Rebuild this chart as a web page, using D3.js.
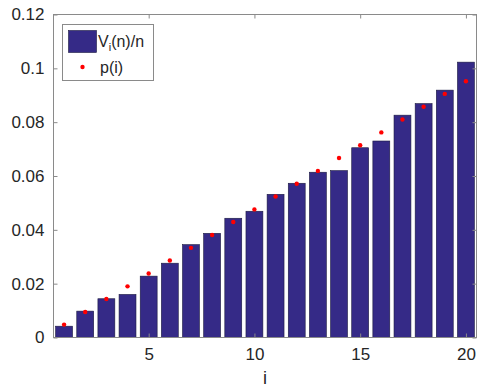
<!DOCTYPE html>
<html><head><meta charset="utf-8">
<script src="https://cdn.jsdelivr.net/npm/d3@7"></script>
<style>body{margin:0;background:#fff}svg{display:block}text{font-family:"Liberation Sans",Arial,sans-serif;fill:#262626}</style>
</head><body><svg id="c" width="478" height="389"></svg>
<script>
const categories = [1,2,3,4,5,6,7,8,9,10,11,12,13,14,15,16,17,18,19,20];
const barValues = [0.0042,0.0098,0.0144,0.0160,0.0228,0.0276,0.0345,0.0387,0.0443,0.0469,0.0532,0.0573,0.0614,0.0620,0.0705,0.0730,0.0826,0.0869,0.0919,0.1023];
const pValues = [0.0048,0.0095,0.0143,0.0190,0.0238,0.0286,0.0333,0.0381,0.0429,0.0476,0.0524,0.0571,0.0619,0.0667,0.0714,0.0762,0.0810,0.0857,0.0905,0.0952];
const xTicks = [5,10,15,20];
const yTicks = [0,0.02,0.04,0.06,0.08,0.1,0.12];
const yTickLabels = ["0","0.02","0.04","0.06","0.08","0.1","0.12"];
const seriesNames = ["V_i(n)/n","p(i)"];

const L=53.5, R=476.5, T=14.5, B=337.5;
const svg = d3.select("#c");
const x = d3.scaleLinear().domain([0.5,20.5]).range([L,R]);
const y = d3.scaleLinear().domain([0,0.12]).range([B,T]);
const bw = (x(1)-x(0))*0.8;

svg.append("g").selectAll("rect").data(categories).join("rect")
  .attr("x", d=>x(d)-bw/2).attr("width", bw)
  .attr("y", (d,i)=>y(barValues[i])).attr("height",(d,i)=>B-y(barValues[i]))
  .attr("fill","#352a87").attr("stroke","#1c1a40").attr("stroke-width",0.6);

svg.append("g").selectAll("circle").data(categories).join("circle")
  .attr("cx", d=>x(d)).attr("cy",(d,i)=>y(pValues[i])).attr("r",2.2).attr("fill","#ff0000");

// axes box
const axc="#8a8a8a";
svg.append("rect").attr("x",L).attr("y",T).attr("width",R-L).attr("height",B-T)
  .attr("fill","none").attr("stroke",axc).attr("stroke-width",1);
const tl=4;
const gb = svg.append("g").attr("transform",`translate(0,${B})`)
  .call(d3.axisBottom(x).tickValues(xTicks).tickSize(-tl).tickPadding(10).tickFormat(d3.format("d")));
const gt = svg.append("g").attr("transform",`translate(0,${T})`)
  .call(d3.axisTop(x).tickValues(xTicks).tickSize(-tl).tickFormat(""));
const gl = svg.append("g").attr("transform",`translate(${L},0)`)
  .call(d3.axisLeft(y).tickValues(yTicks).tickSize(-tl).tickPadding(9).tickFormat((d,i)=>yTickLabels[i]));
const gr = svg.append("g").attr("transform",`translate(${R},0)`)
  .call(d3.axisRight(y).tickValues(yTicks).tickSize(-tl).tickFormat(""));
[gb,gt,gl,gr].forEach(g=>{
  g.select(".domain").remove();
  g.selectAll("line").attr("stroke",axc);
  g.selectAll("text").attr("font-size","17px").attr("fill","#262626").attr("font-family","Liberation Sans, Arial, sans-serif");
});
gb.selectAll("text").attr("dy","0.71em");

svg.append("text").attr("x",(L+R)/2).attr("y",384).attr("text-anchor","middle")
  .attr("font-size","18px").text("i");

// legend
const lg = svg.append("g");
lg.append("rect").attr("x",62.5).attr("y",24.5).attr("width",91).attr("height",56)
  .attr("fill","#fff").attr("stroke",axc);
lg.append("rect").attr("x",68.5).attr("y",30.5).attr("width",28).attr("height",22)
  .attr("fill","#352a87").attr("stroke","#1c1a40").attr("stroke-width",0.6);
const t1 = lg.append("text").attr("x",98).attr("y",47).attr("font-size","16px");
t1.append("tspan").text(seriesNames[0].split("_")[0]);
t1.append("tspan").attr("font-size","11px").attr("dy",4).text("i");
t1.append("tspan").attr("dy",-4).text(seriesNames[0].split("_")[1].slice(1));
lg.append("circle").attr("cx",82.5).attr("cy",67).attr("r",2.2).attr("fill","#ff0000");
lg.append("text").attr("x",100).attr("y",73).attr("font-size","16px").text(seriesNames[1]);
</script></body></html>
